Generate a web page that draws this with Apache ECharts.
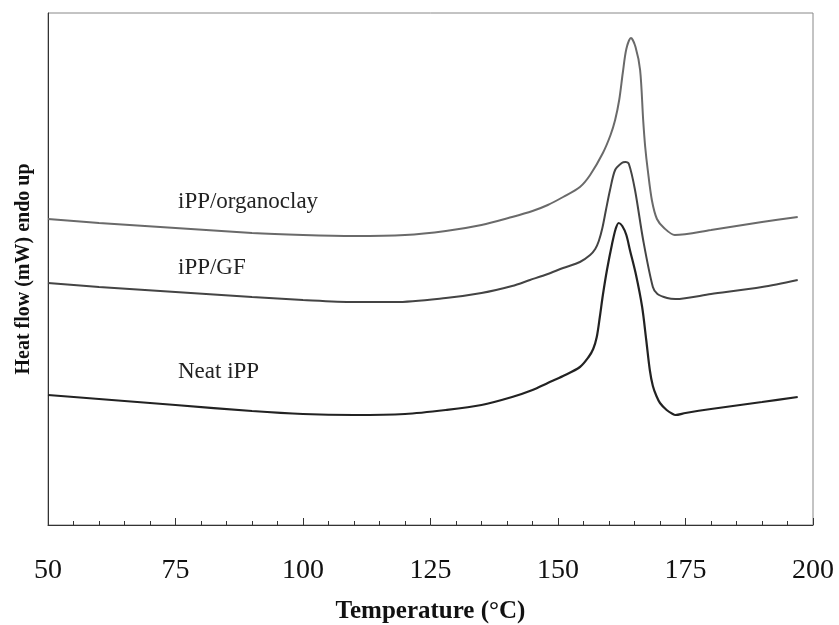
<!DOCTYPE html>
<html>
<head>
<meta charset="utf-8">
<script src="https://cdn.jsdelivr.net/npm/echarts@6/dist/echarts.min.js"></script>
<style>
  html, body { margin: 0; padding: 0; background: #fff; }
  #chart { width: 839px; height: 625px; }
</style>
</head>
<body>
<div id="chart"></div>
<script>
// DSC curves, heat flow in arbitrary units (endo up)
const organoclay = [
  [50, 306], [60, 302], [75, 297], [90, 292], [100, 290], [110, 289], [120, 290],
  [128, 294], [135, 300], [141, 308], [145, 314], [148, 320], [151, 328], [154.3, 338],
  [156.3, 350], [158.8, 372], [160.3, 390], [161.2, 405], [162, 425], [162.7, 452],
  [163.4, 476], [164.3, 487], [165.2, 478], [166.1, 455], [166.7, 405], [167.1, 378],
  [167.6, 355], [168.4, 325], [169.4, 306], [170.8, 297], [172.9, 290], [180, 295],
  [190, 303], [197, 308]
];
const glassFiber = [
  [50, 242], [60, 238], [75, 233], [90, 228], [100, 225], [110, 223], [118, 223],
  [128, 227], [135, 232], [141, 239], [144.5, 245], [148, 251], [151, 257], [154.3, 263],
  [156.3, 270], [157.3, 276], [158, 284], [158.7, 297], [159.4, 315], [160.2, 335],
  [161.2, 355], [162.5, 362], [163.2, 363], [163.9, 361], [165.1, 335], [166.7, 285],
  [168.6, 238], [169.5, 231], [171.4, 227], [173, 226], [180, 231], [190, 238], [197, 245]
];
const neat = [
  [50, 130], [60, 126], [75, 120], [90, 114], [100, 111], [110, 110], [120, 111],
  [128, 115], [135, 120], [141, 128], [145, 135], [148, 142], [151, 149], [154.3, 158],
  [156, 168], [156.9, 176], [157.6, 188], [158.2, 208], [158.8, 230], [159.6, 255],
  [160.6, 281], [161.3, 296], [161.9, 302], [162.6, 299], [163.4, 290], [164.1, 275],
  [165.3, 250], [166.5, 218], [167.3, 185], [168, 155], [168.6, 139], [169.3, 129],
  [170, 122], [171.3, 115], [172.5, 111], [173, 110], [175, 112], [180, 116],
  [190, 123], [197, 128]
];
const seriesNames = ['iPP/organoclay', 'iPP/GF', 'Neat iPP'];

const chart = echarts.init(document.getElementById('chart'));
const serif = '"Liberation Serif", "Times New Roman", serif';

const option = {
  backgroundColor: '#fff',
  animation: false,
  grid: {
    left: 48, right: 26, top: 13, bottom: 100,
    outerBoundsMode: 'none',
    show: true, borderColor: '#888', borderWidth: 1
  },
  xAxis: {
    type: 'value',
    min: 50, max: 200, interval: 25,
    name: 'Temperature (°C)',
    nameLocation: 'middle',
    nameGap: 74,
    nameTextStyle: { fontFamily: serif, fontSize: 25, fontWeight: 'bold', color: '#111' },
    axisLine: { lineStyle: { color: '#333', width: 1 } },
    axisTick: { inside: true, length: 7, lineStyle: { color: '#333' } },
    minorTick: { show: true, splitNumber: 5, length: 4, lineStyle: { color: '#333' } },
    axisLabel: { fontFamily: serif, fontSize: 28, color: '#111', margin: 32 },
    splitLine: { show: false }
  },
  yAxis: {
    type: 'value',
    min: 0, max: 512,
    name: 'Heat flow (mW) endo up',
    nameLocation: 'middle',
    nameGap: 14,
    nameTextStyle: { fontFamily: serif, fontSize: 20, fontWeight: 'bold', color: '#111' },
    axisLine: { show: true, lineStyle: { color: '#333', width: 1 } },
    axisTick: { show: false },
    axisLabel: { show: false },
    splitLine: { show: false }
  },
  series: [
    { name: seriesNames[0], type: 'line', data: organoclay, smooth: 0.3,
      symbol: 'none', lineStyle: { color: '#6a6a6a', width: 2 } },
    { name: seriesNames[1], type: 'line', data: glassFiber, smooth: 0.3,
      symbol: 'none', lineStyle: { color: '#444', width: 2 } },
    { name: seriesNames[2], type: 'line', data: neat, smooth: 0.3,
      symbol: 'none', lineStyle: { color: '#222', width: 2.2 } }
  ],
  graphic: [
    { type: 'text', style: { x: 178, y: 202, text: seriesNames[0], font: '23px ' + serif, fill: '#222', verticalAlign: 'middle' } },
    { type: 'text', style: { x: 178, y: 268, text: seriesNames[1], font: '23px ' + serif, fill: '#222', verticalAlign: 'middle' } },
    { type: 'text', style: { x: 178, y: 372, text: seriesNames[2], font: '23px ' + serif, fill: '#222', verticalAlign: 'middle' } }
  ]
};

chart.setOption(option);
</script>
</body>
</html>
